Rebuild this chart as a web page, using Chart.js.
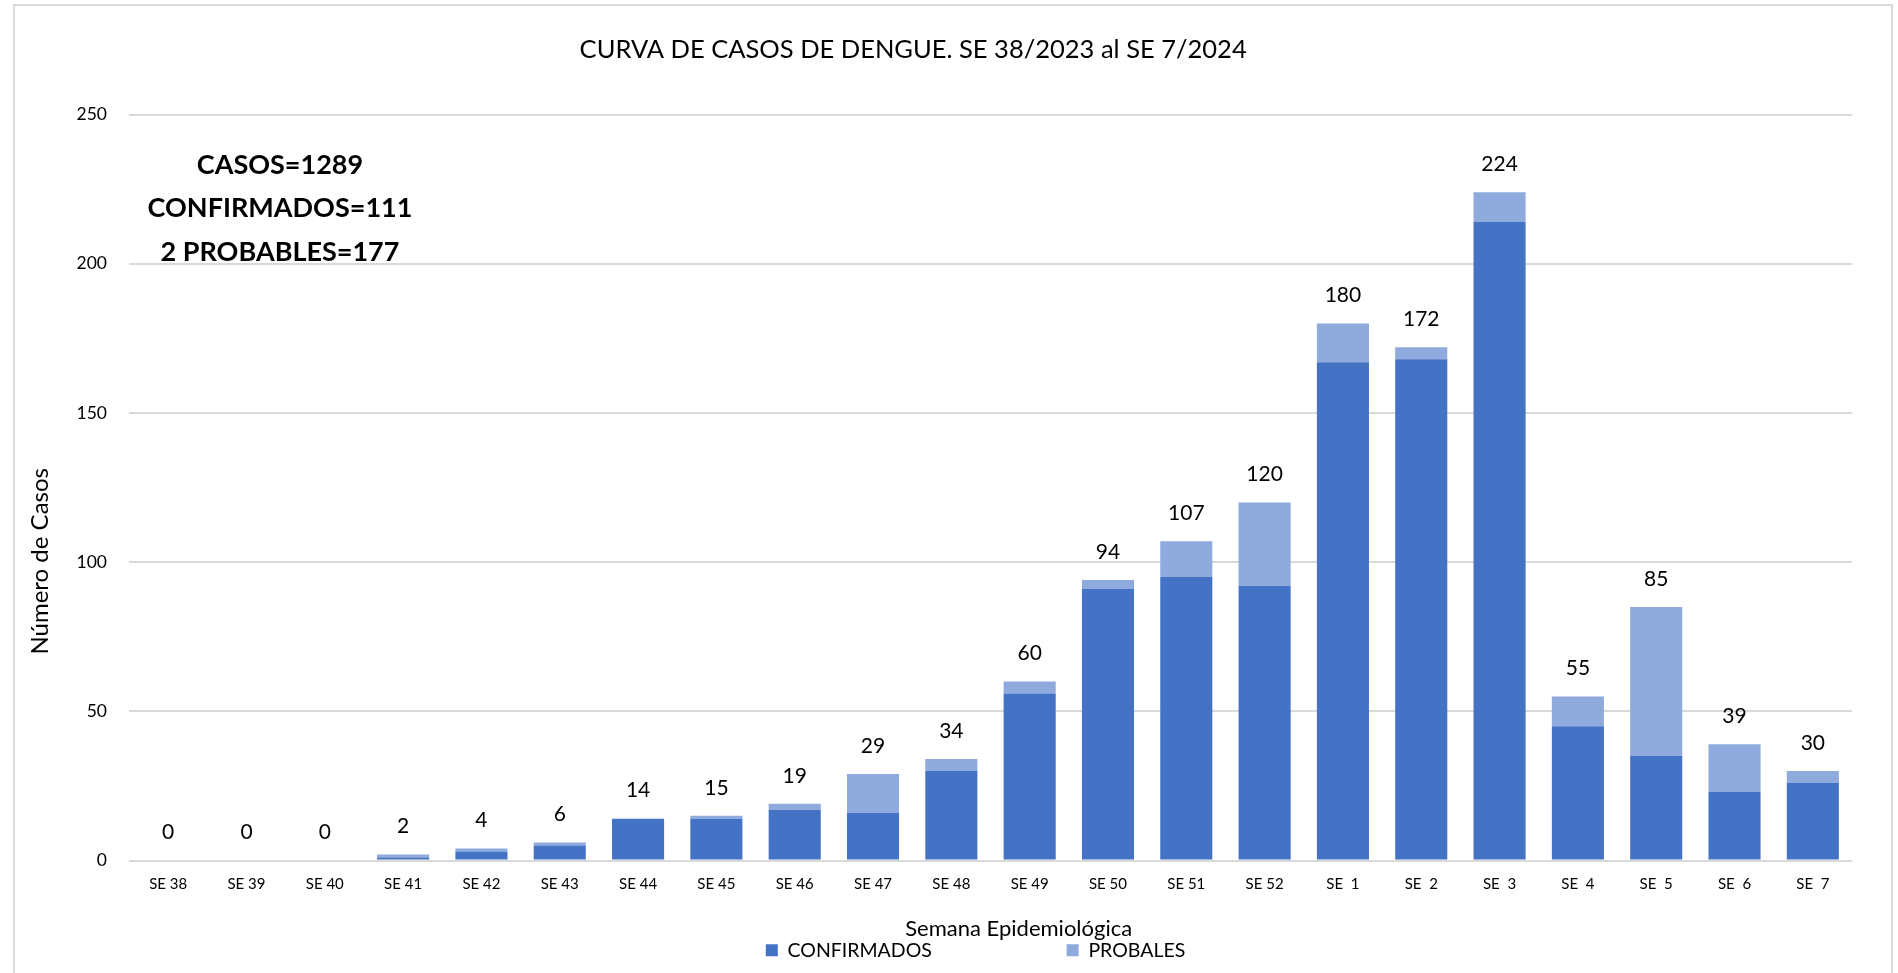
<!DOCTYPE html>
<html>
<head>
<meta charset="utf-8">
<script src="https://cdn.jsdelivr.net/npm/chart.js@4.4.1/dist/chart.umd.min.js"></script>
<style>
  html, body { margin: 0; padding: 0; background: #ffffff; overflow: hidden; }
  #frame { position: absolute; left: 13px; top: 4px; width: 1880px; height: 1200px; box-sizing: border-box;
           border: 2px solid #d9d9d9; border-bottom: none; pointer-events: none; }
  #c { position: absolute; left: 0; top: 0; }
</style>
</head>
<body>
<div id="frame"></div>
<canvas id="c" width="1898" height="973"></canvas>
<script>
// ---- data ----
const categories = ["SE 38","SE 39","SE 40","SE 41","SE 42","SE 43","SE 44","SE 45","SE 46","SE 47","SE 48",
                    "SE 49","SE 50","SE 51","SE 52","SE  1","SE  2","SE  3","SE  4","SE  5","SE  6","SE  7"];
const confirmados = [0,0,0,1,3,5,14,14,17,16,30,56,91,95,92,167,168,214,45,35,23,26];
const probables   = [0,0,0,1,1,1,0,1,2,13,4,4,3,12,28,13,4,10,10,50,16,4];
const yTicks = [0,50,100,150,200,250];
const seriesNames = ["CONFIRMADOS","PROBALES"];
const titleText = "CURVA DE CASOS DE DENGUE. SE 38/2023 al SE 7/2024";
const yTitle = "Número de Casos";
const xTitle = "Semana Epidemiológica";
const noteLines = ["CASOS=1289","CONFIRMADOS=111","2 PROBABLES=177"];

const FONT = "Lato, 'Open Sans', sans-serif";
const DARK = "#4472C4", LIGHT = "#8FAADC";

const totalLabels = {
  id: 'totalLabels',
  afterDatasetsDraw(chart) {
    const ctx = chart.ctx;
    const m0 = chart.getDatasetMeta(0), m1 = chart.getDatasetMeta(1);
    ctx.save();
    ctx.font = "21px " + FONT;
    ctx.fillStyle = "#000";
    ctx.textAlign = "center";
    ctx.textBaseline = "middle";
    categories.forEach((c, i) => {
      const b0 = m0.data[i], b1 = m1.data[i];
      const top = Math.min(b0.y, b1.y);
      const total = confirmados[i] + probables[i];
      ctx.fillText(String(total), b1.x, top - 28);
    });
    ctx.restore();
  }
};

const note = {
  id: 'note',
  afterDraw(chart) {
    const ctx = chart.ctx, a = chart.chartArea;
    ctx.save();
    ctx.font = "bold 27px " + FONT;
    ctx.fillStyle = "#000";
    ctx.textAlign = "center";
    ctx.textBaseline = "middle";
    noteLines.forEach((t, k) => ctx.fillText(t, a.left + 151, a.top + 50.5 + k * 43.6));
    ctx.restore();
  }
};

new Chart(document.getElementById('c'), {
  type: 'bar',
  data: {
    labels: categories,
    datasets: [
      { label: seriesNames[0], data: confirmados, backgroundColor: DARK, borderWidth: 0,
        barPercentage: 0.665, categoryPercentage: 1.0 },
      { label: seriesNames[1], data: probables, backgroundColor: LIGHT, borderWidth: 0,
        barPercentage: 0.665, categoryPercentage: 1.0 }
    ]
  },
  options: {
    responsive: false,
    animation: false,
    devicePixelRatio: 1,
    layout: { padding: { left: 20, right: 46, top: 0, bottom: 3 } },
    plugins: {
      tooltip: { enabled: false },
      title: {
        display: true,
        text: titleText + "       ",
        color: "#000",
        font: { family: FONT, size: 25.5, weight: 'normal' },
        padding: { top: 34, bottom: 50 }
      },
      legend: {
        position: 'bottom',
        fullSize: false,
        labels: {
          boxWidth: 12, boxHeight: 12, padding: 10, color: "#000",
          font: { family: FONT, size: 19.5 },
          generateLabels(chart) {
            const items = Chart.defaults.plugins.legend.labels.generateLabels(chart);
            items[0].text = items[0].text + " ".repeat(25);
            items[1].text = items[1].text + " ".repeat(6);
            items.forEach(it => { it.lineWidth = 0; });
            return items;
          }
        }
      }
    },
    scales: {
      x: {
        stacked: true,
        grid: { display: false },
        border: { display: false },
        ticks: { color: "#000", font: { family: FONT, size: 15 }, padding: 7, maxRotation: 0, autoSkip: false },
        title: { display: true, text: "          " + xTitle, color: "#000",
                 font: { family: FONT, size: 22 }, padding: { top: 0, bottom: -12 } },
        afterFit(scale) { scale.height = 70; }
      },
      y: {
        stacked: true,
        min: 0, max: 250,
        afterBuildTicks(scale) { scale.ticks = yTicks.map(v => ({ value: v })); },
        grid: { color: "#d9d9d9", lineWidth: 2, drawTicks: false },
        border: { display: false },
        ticks: { color: "#000", font: { family: FONT, size: 17.5 }, padding: 22 },
        title: { display: true, text: yTitle + " ".repeat(24), color: "#000",
                 font: { family: FONT, size: 24 }, padding: { top: 5.5, bottom: 0 } },
        afterFit(scale) { scale.width = 109; }
      }
    }
  },
  plugins: [totalLabels, note]
});
</script>
</body>
</html>
